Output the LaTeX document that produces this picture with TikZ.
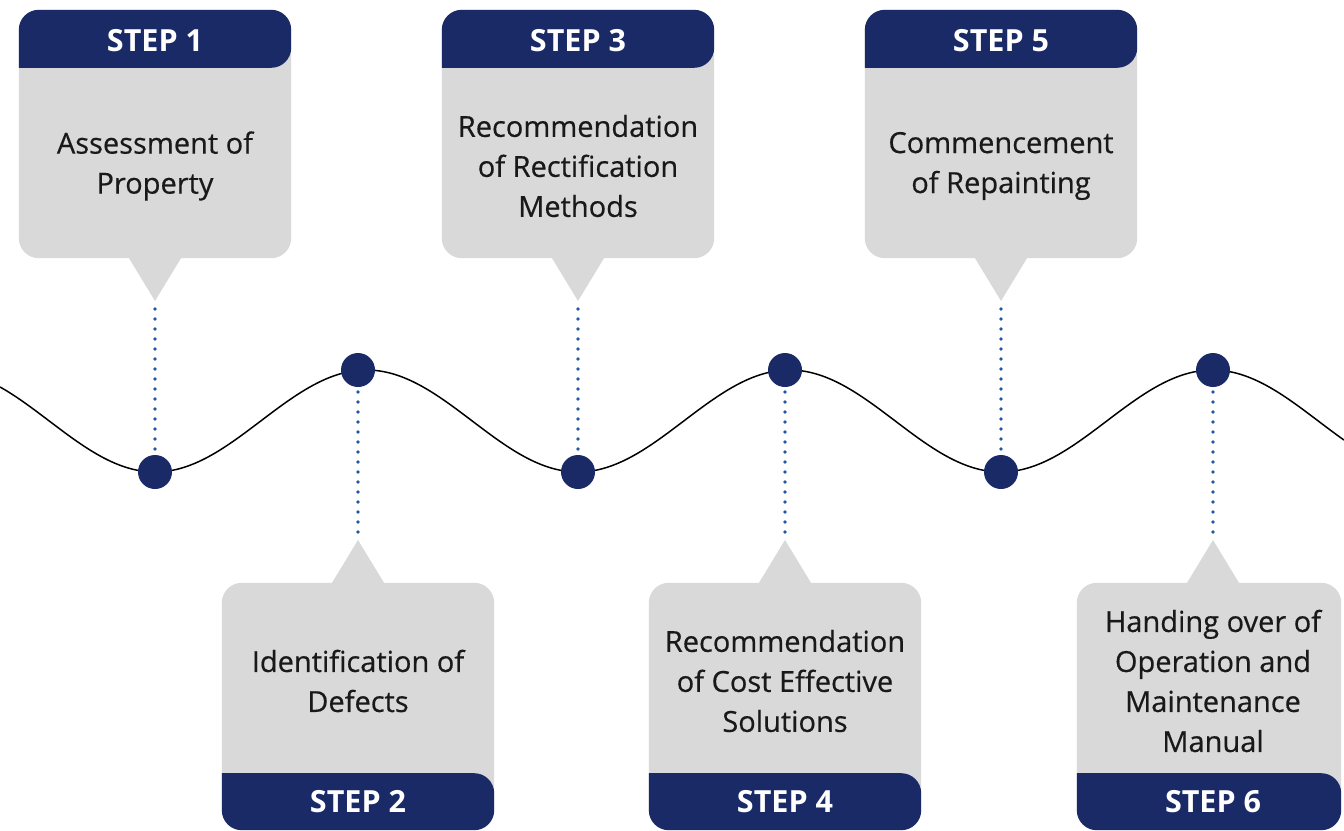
\documentclass[tikz,border=0pt]{standalone}
\usepackage{fontspec}
\setmainfont{Open Sans}
\newfontfamily\cardfont[FakeBold=0.5]{Open Sans}
\usetikzlibrary{backgrounds}
\definecolor{stepnavy}{RGB}{25,42,103}
\definecolor{cardgrey}{RGB}{217,217,217}
\definecolor{dotblue}{RGB}{30,88,165}

\begin{document}
\begin{tikzpicture}[x=1pt,y=-1pt,
    card/.style={minimum width=272pt,minimum height=190pt,inner sep=0pt,yshift=-3pt,
      align=center,text=black!90,font=\cardfont\fontsize{29}{40}\selectfont},
    head/.style={text=white,font=\fontsize{30.5}{34}\selectfont\bfseries},
    spot/.style={circle,fill=stepnavy,minimum size=34pt,inner sep=0pt},
    dotline/.style={dotblue,line width=3.6pt,line cap=round,
      dash pattern=on 0pt off 10pt}]
   \useasboundingbox (0,0) rectangle (1344,830);
   % Step 1
   \node[card] (b1) at (155,163) {Assessment of\\Property};
   \node[head] (h1) at (155,41) {STEP 1};
   \coordinate (t1) at (155,301);
   \node[spot] (d1) at (155,472) {};
   % Step 2
   \node[card] (b2) at (358,678) {Identification of\\Defects};
   \node[head] (h2) at (358,802) {STEP 2};
   \coordinate (t2) at (358,540);
   \node[spot] (d2) at (358,370) {};
   % Step 3
   \node[card] (b3) at (578,163) {Recommendation\\of Rectification\\Methods};
   \node[head] (h3) at (578,41) {STEP 3};
   \coordinate (t3) at (578,301);
   \node[spot] (d3) at (578,472) {};
   % Step 4
   \node[card] (b4) at (785,678) {Recommendation\\of Cost Effective\\Solutions};
   \node[head] (h4) at (785,802) {STEP 4};
   \coordinate (t4) at (785,540);
   \node[spot] (d4) at (785,370) {};
   % Step 5
   \node[card] (b5) at (1001,163) {Commencement\\of Repainting};
   \node[head] (h5) at (1001,41) {STEP 5};
   \coordinate (t5) at (1001,301);
   \node[spot] (d5) at (1001,472) {};
   % Step 6
   \node[card] (b6) at (1213,678) {Handing over of\\Operation and\\Maintenance\\Manual};
   \node[head] (h6) at (1213,802) {STEP 6};
   \coordinate (t6) at (1213,540);
   \node[spot] (d6) at (1213,370) {};

   \begin{scope}[on background layer]
   \clip (0,0) rectangle (1344,830);
   % Wave
   \draw[line width=1.5pt] plot[domain=0:1344,samples=260,smooth]
      (\x,{421+51*cos((\x-155)/423*360)});
   % Leaders
   \foreach \i in {1,3,5}
      \draw[dotline] ([yshift=-8pt]t\i) -- (d\i);
   \foreach \i in {2,4,6}
      \draw[dotline] ([yshift=8pt]t\i) -- (d\i);
   % Upper cards (text sits 3pt low in its node)
   \foreach \i in {1,3,5} {
      \fill[cardgrey,rounded corners=20pt] ([yshift=61pt]b\i.north west) rectangle ([yshift=3pt]b\i.south east);
      \fill[cardgrey] ([xshift=-26pt,yshift=3pt]b\i.south) -- (t\i) -- ([xshift=26pt,yshift=3pt]b\i.south) -- cycle;
      \fill[stepnavy] ([yshift=3pt]b\i.north west) [rounded corners=20pt] |- ([yshift=61pt]b\i.north)
         -| ([yshift=3pt]b\i.north east) [sharp corners] -- cycle;
   }
   % Lower cards
   \foreach \i/\r in {2/0,4/0,6/8} {
      \fill[cardgrey,rounded corners=20pt] ([yshift=3pt]b\i.north west) rectangle ([xshift=-\r pt,yshift=-54pt]b\i.south east);
      \fill[cardgrey] ([xshift=-26pt,yshift=3pt]b\i.north) -- (t\i) -- ([xshift=26pt,yshift=3pt]b\i.north) -- cycle;
      \fill[stepnavy] ([yshift=3pt]b\i.south west) [rounded corners=20pt] |- ([yshift=-54pt]b\i.south)
         -| ([xshift=-\r pt,yshift=3pt]b\i.south east) [sharp corners] -- cycle;
   }
   \end{scope}
\end{tikzpicture}
\end{document}
